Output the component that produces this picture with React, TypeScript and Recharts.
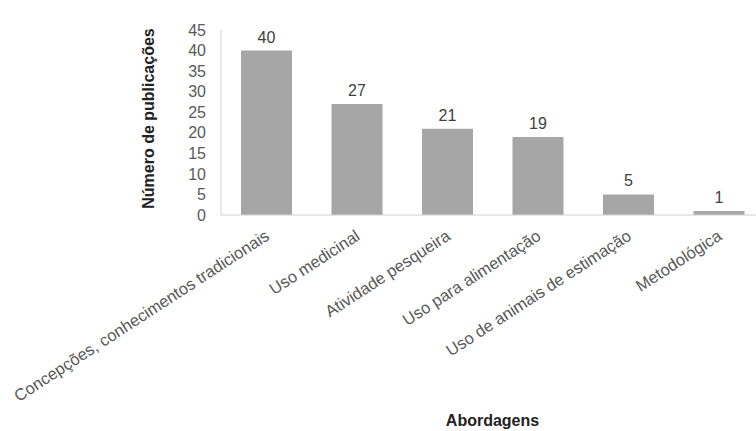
import { Bar, BarChart, LabelList, XAxis, YAxis, Label } from 'recharts'

document.body.style.margin = '0'

const categories = [
  'Concepções, conhecimentos tradicionais',
  'Uso medicinal',
  'Atividade pesqueira',
  'Uso para alimentação',
  'Uso de animais de estimação',
  'Metodológica',
]
const publications = [40, 27, 21, 19, 5, 1]
const yTicks = [0, 5, 10, 15, 20, 25, 30, 35, 40, 45]

const data = categories.map((name, i) => ({ name, value: publications[i] }))

const FONT = 'Liberation Sans, Arial, sans-serif'

function AngledTick({ x, y, payload }: any) {
  return (
    <g transform={`translate(${x + 1},${y + 11})`}>
      <text
        transform="rotate(-33)"
        textAnchor="end"
        dy="0.35em"
        fontSize={16.5}
        fontFamily={FONT}
        fill="#595959"
      >
        {payload.value}
      </text>
    </g>
  )
}

export default function App() {
  return (
    <div style={{ width: 756, height: 431, overflow: 'hidden', background: '#fff' }}>
      <BarChart
        width={764}
        height={431}
        data={data}
        margin={{ top: 30, right: 0, left: 0, bottom: 0 }}
      >
        <XAxis
          dataKey="name"
          height={216}
          interval={0}
          tickLine={false}
          axisLine={{ stroke: '#d0d0d0' }}
          tick={<AngledTick />}
        >
          <Label
            value="Abordagens"
            position="insideBottom"
            offset={5}
            fontSize={16}
            fontWeight="bold"
            fontFamily={FONT}
            fill="#222"
          />
        </XAxis>
        <YAxis
          width={221}
          domain={[0, 45]}
          ticks={yTicks}
          interval={0}
          tickLine={false}
          tickSize={6}
          tickMargin={9}
          axisLine={{ stroke: '#d0d0d0' }}
          tick={{ fontSize: 16, fill: '#595959', fontFamily: FONT }}
        >
          <Label
            value="Número de publicações"
            angle={-90}
            position="center"
            dx={38}
            dy={-4}
            fontSize={16}
            fontWeight="bold"
            fontFamily={FONT}
            fill="#222"
          />
        </YAxis>
        <Bar dataKey="value" fill="#a6a6a6" barSize={51} isAnimationActive={false}>
          <LabelList
            dataKey="value"
            position="top"
            offset={8}
            fontSize={16}
            fontFamily={FONT}
            fill="#404040"
          />
        </Bar>
      </BarChart>
    </div>
  )
}
